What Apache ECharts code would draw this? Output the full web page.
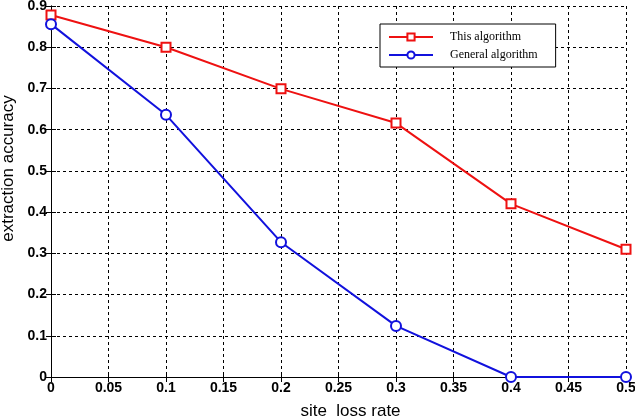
<!DOCTYPE html>
<html><head><meta charset="utf-8">
<script src="https://cdn.jsdelivr.net/npm/echarts@6/dist/echarts.min.js"></script>
<style>html,body{margin:0;padding:0;background:#fff}#c{width:635px;height:420px}</style>
</head><body><div id="c"></div>
<script>
const xValues = [0, 0.1, 0.2, 0.3, 0.4, 0.5];
const thisAlgorithm = [0.878, 0.800, 0.699, 0.616, 0.420, 0.310];
const generalAlgorithm = [0.856, 0.636, 0.327, 0.124, 0.0, 0.0];
const seriesNames = ['This algorithm', 'General algorithm'];

const chart = echarts.init(document.getElementById('c'));
const tickFont = {fontFamily: 'Arial, Liberation Sans', fontWeight: 'bold', fontSize: 14, color: '#000'};
const dashed = {show: true, lineStyle: {color: '#000', type: [3, 3], width: 1}};
chart.setOption({
  animation: false,
  backgroundColor: '#fff',
  grid: {left: 51, top: 6, right: 9, bottom: 43, containLabel: false, outerBoundsMode: 'none'},
  legend: {
    orient: 'vertical', left: 380, top: 24,
    backgroundColor: '#fff', borderColor: '#000', borderWidth: 1,
    padding: [7, 18, 6, 8], itemGap: 6, itemWidth: 44, itemHeight: 9,
    textStyle: {fontFamily: 'Liberation Serif, Times New Roman, serif', fontSize: 12, color: '#000', padding: [0, 0, 0, 12]},
    data: seriesNames
  },
  xAxis: [{
    type: 'value', min: 0, max: 0.5, interval: 0.05,
    name: 'site  loss rate', nameLocation: 'middle', nameGap: 26,
    nameTextStyle: {fontFamily: 'Arial, Liberation Sans', fontSize: 17, color: '#000', padding: [0, 0, 0, 24]},
    axisLine: {onZero: false, lineStyle: {color: '#000', width: 1}},
    axisTick: {inside: true, length: 5, lineStyle: {color: '#000'}},
    axisLabel: Object.assign({margin: 4, formatter: v => String(+v.toFixed(2))}, tickFont),
    splitLine: dashed
  }, {
    type: 'value', position: 'top', min: 0, max: 0.5, interval: 0.05,
    axisLine: {show: true, lineStyle: {color: '#000'}},
    axisTick: {inside: true, length: 5, lineStyle: {color: '#000'}},
    axisLabel: {show: false}, splitLine: {show: false}
  }],
  yAxis: [{
    type: 'value', min: 0, max: 0.9, interval: 0.1,
    name: 'extraction accuracy', nameLocation: 'middle', nameGap: 34,
    nameTextStyle: {fontFamily: 'Arial, Liberation Sans', fontSize: 17, color: '#000', padding: [0, 0, 0, 46]},
    axisLine: {show: true, onZero: false, lineStyle: {color: '#000', width: 1}},
    axisTick: {show: true, inside: true, length: 5, lineStyle: {color: '#000'}},
    axisLabel: Object.assign({margin: 4, formatter: v => String(+v.toFixed(1))}, tickFont),
    splitLine: dashed
  }, {
    type: 'value', position: 'right', min: 0, max: 0.9, interval: 0.1,
    axisLine: {show: true, lineStyle: {color: '#000'}},
    axisTick: {show: true, inside: true, length: 5, lineStyle: {color: '#000'}},
    axisLabel: {show: false}, splitLine: {show: false}
  }],
  series: [{
    name: seriesNames[0], type: 'line',
    data: xValues.map((x, i) => [x, thisAlgorithm[i]]),
    symbol: 'emptyRect', symbolSize: 9,
    lineStyle: {color: '#ee1111', width: 2},
    itemStyle: {color: '#ee1111', borderWidth: 1.5}
  }, {
    name: seriesNames[1], type: 'line',
    data: xValues.map((x, i) => [x, generalAlgorithm[i]]),
    symbol: 'emptyCircle', symbolSize: 10,
    lineStyle: {color: '#1111dd', width: 2},
    itemStyle: {color: '#1111dd', borderWidth: 1.5}
  }]
});
</script></body></html>
